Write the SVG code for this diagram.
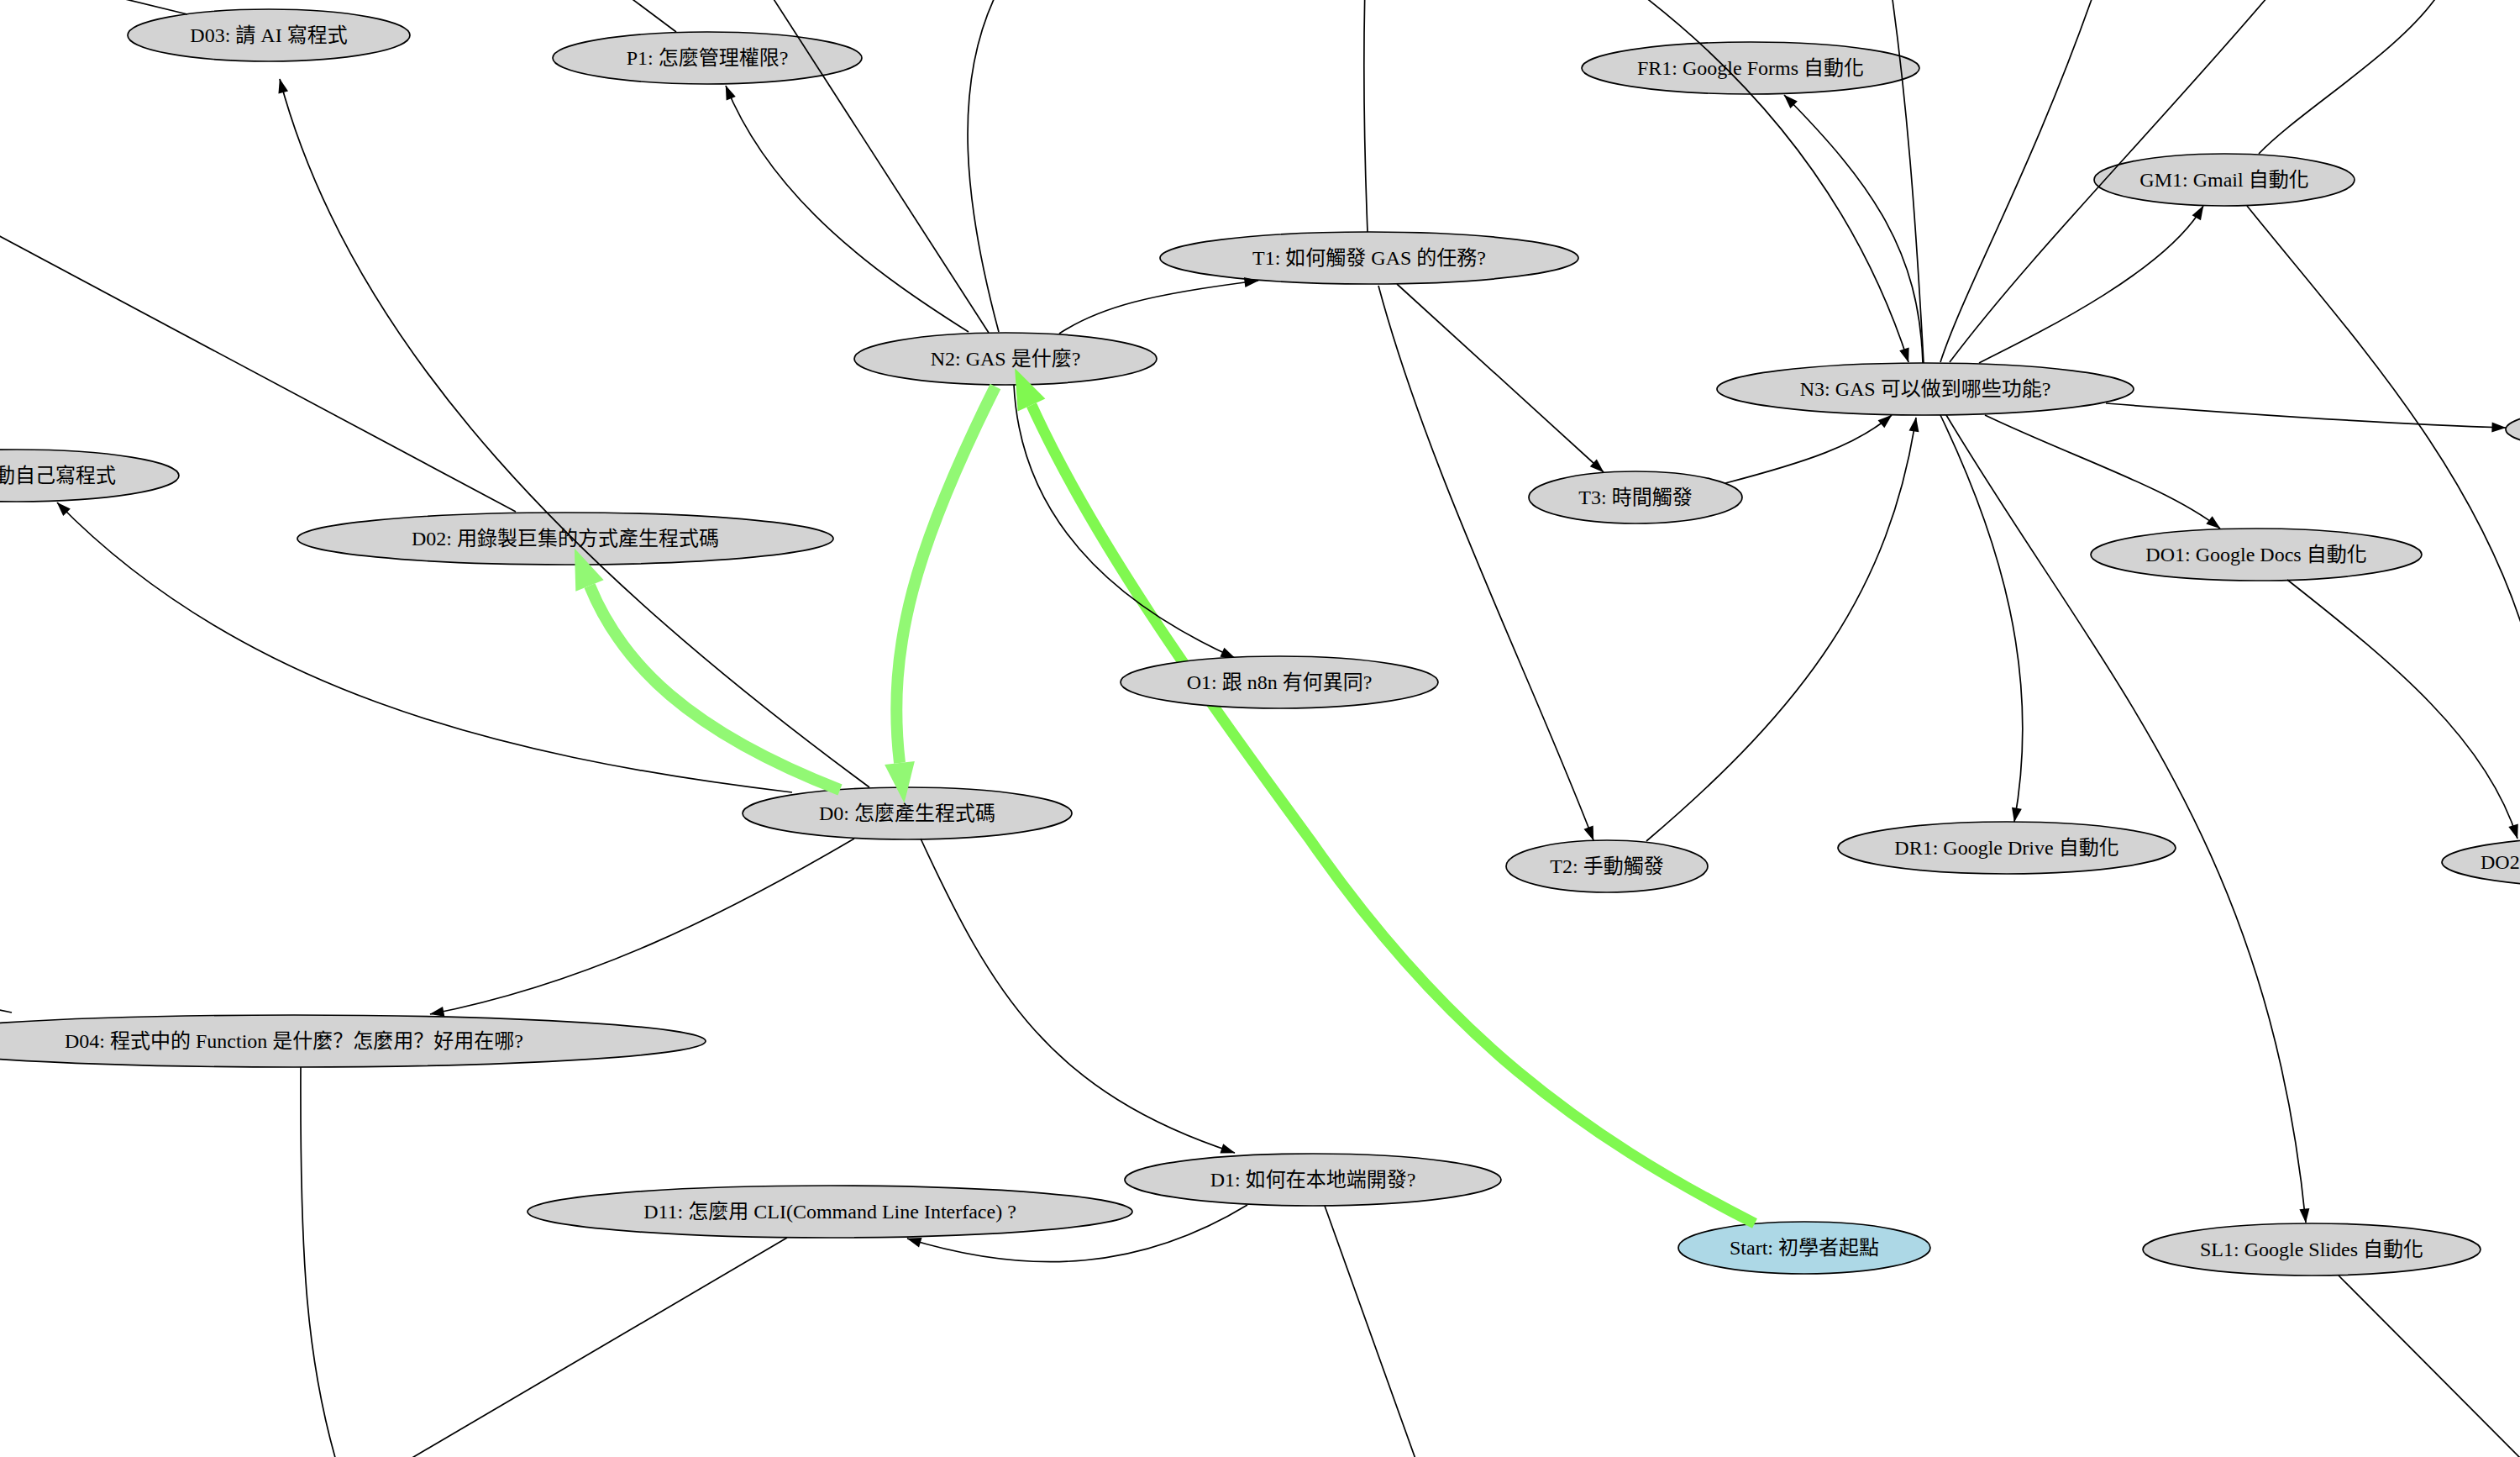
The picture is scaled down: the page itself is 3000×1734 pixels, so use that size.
<svg xmlns="http://www.w3.org/2000/svg" width="3000" height="1734" viewBox="0 0 3000 1734">
<style>
.n ellipse{fill:#d3d3d3;stroke:#000;stroke-width:1.7}
.n.start ellipse{fill:#add8e6}
.n text{font-family:"Liberation Serif","Noto Sans CJK TC",serif;font-size:24px;fill:#000;text-anchor:middle}
.n text.sc{font-family:"Liberation Serif","Noto Sans CJK SC",serif}
.e{fill:none;stroke:#000;stroke-width:1.7}
.ea{marker-end:url(#ah)}
.g1{fill:none;stroke:#80f850;stroke-width:13;marker-end:url(#ahg1)}
.g2{fill:none;stroke:#92f874;stroke-width:14;marker-end:url(#ahg2)}
</style>
<defs>
<marker id="ah" markerUnits="userSpaceOnUse" markerWidth="20" markerHeight="14" refX="16.5" refY="6" orient="auto" overflow="visible"><path d="M0,0 L17,6 L0,12 z" fill="#000"/></marker>
<marker id="ahg1" markerUnits="userSpaceOnUse" markerWidth="50" markerHeight="38" refX="0" refY="18" orient="auto" overflow="visible"><path d="M0,0 L48,18 L0,36 z" fill="#80f850"/></marker>
<marker id="ahg2" markerUnits="userSpaceOnUse" markerWidth="50" markerHeight="38" refX="0" refY="18" orient="auto" overflow="visible"><path d="M0,0 L48,18 L0,36 z" fill="#92f874"/></marker>
</defs>
<rect width="3000" height="1734" fill="#fff"/>
<g id="nodes">
<g id="D03" class="n"><ellipse cx="320" cy="42" rx="168" ry="31"/><text x="320" y="50">D03: 請 AI 寫程式</text></g>
<g id="P1" class="n"><ellipse cx="842" cy="69" rx="184" ry="31"/><text x="842" y="77">P1: 怎麼管理權限?</text></g>
<g id="FR1" class="n"><ellipse cx="2084" cy="81" rx="201" ry="31"/><text x="2084" y="89">FR1: Google Forms 自動化</text></g>
<g id="GM1" class="n"><ellipse cx="2648" cy="214" rx="155" ry="31"/><text x="2648" y="222">GM1: Gmail 自動化</text></g>
<g id="T1" class="n"><ellipse cx="1630" cy="307" rx="249" ry="31"/><text x="1630" y="315">T1: 如何觸發 GAS 的任務?</text></g>
<g id="N2" class="n"><ellipse cx="1197" cy="427" rx="180" ry="31"/><text x="1197" y="435">N2: GAS 是什麼?</text></g>
<g id="N3" class="n"><ellipse cx="2292" cy="463" rx="248" ry="31"/><text x="2292" y="471">N3: GAS 可以做到哪些功能?</text></g>
<g id="D01" class="n"><ellipse cx="20" cy="566" rx="193" ry="31"/><text x="138" y="574" style="text-anchor:end">動自己寫程式</text></g>
<g id="D02" class="n"><ellipse cx="673" cy="641" rx="319" ry="31"/><text x="673" y="649">D02: 用錄製巨集的方式產生程式碼</text></g>
<g id="T3" class="n"><ellipse cx="1947" cy="592" rx="127" ry="31"/><text x="1947" y="600">T3: 時間觸發</text></g>
<g id="DO1" class="n"><ellipse cx="2686" cy="660" rx="197" ry="31"/><text x="2686" y="668">DO1: Google Docs 自動化</text></g>
<g id="D0" class="n"><ellipse cx="1080" cy="968" rx="196" ry="31"/><text x="1080" y="976">D0: 怎麼產生程式碼</text></g>
<g id="T2" class="n"><ellipse cx="1913" cy="1031" rx="120" ry="31"/><text x="1913" y="1039">T2: 手動觸發</text></g>
<g id="DR1" class="n"><ellipse cx="2389" cy="1009" rx="201" ry="31"/><text x="2389" y="1017">DR1: Google Drive 自動化</text></g>
<g id="DO2" class="n"><ellipse cx="3120" cy="1026" rx="213" ry="31"/><text x="2953" y="1034" style="text-anchor:start">DO2</text></g>
<g id="RX" class="n"><ellipse cx="3183" cy="511" rx="200" ry="31"/></g>
<g id="D04" class="n"><ellipse cx="350" cy="1239" rx="490" ry="31"/><text class="sc" x="350" y="1247">D04: 程式中的 Function 是什麼？怎麼用？好用在哪?</text></g>
<g id="D11" class="n"><ellipse cx="988" cy="1442" rx="360" ry="31"/><text x="988" y="1450">D11: 怎麼用 CLI(Command Line Interface) ?</text></g>
<g id="D1" class="n"><ellipse cx="1563" cy="1404" rx="224" ry="31"/><text x="1563" y="1412">D1: 如何在本地端開發?</text></g>
<g id="Start" class="n start"><ellipse cx="2148" cy="1485" rx="150" ry="31"/><text x="2148" y="1493">Start: 初學者起點</text></g>
<g id="SL1" class="n"><ellipse cx="2752" cy="1487" rx="201" ry="31"/><text x="2752" y="1495">SL1: Google Slides 自動化</text></g>
</g>
<g id="connectors">
<path class="g1" d="M2089,1456 C1880,1350 1720,1230 1560,1000 C1420,810 1300,640 1228,482"/>
<path class="g2" d="M1185,460 C1090,650 1055,770 1071,908"/>
<path class="g2" d="M1000,940 C820,870 740,790 702,697"/>
<path class="e" d="M223,17 L100,-13"/>
<path class="e" d="M805,38 L730,-18"/>
<path class="e" d="M614,609 L-10,276"/>
<path class="e ea" d="M1035,937 C700,690 420,420 333,94"/>
<path class="e" d="M1177,396 L912,-15"/>
<path class="e ea" d="M1153,395 C1050,330 920,240 864,102"/>
<path class="e" d="M1189,395 C1150,250 1130,100 1190,-15"/>
<path class="e ea" d="M943,943 C580,900 280,815 68,598"/>
<path class="e ea" d="M1017,998 C860,1090 700,1170 512,1207"/>
<path class="e ea" d="M1096,998 C1180,1180 1250,1300 1470,1372"/>
<path class="e ea" d="M1485,1434 C1360,1510 1230,1520 1080,1474"/>
<path class="e" d="M1577,1435 L1690,1750"/>
<path class="e" d="M937,1473 L465,1750"/>
<path class="e" d="M358,1270 C357,1500 365,1620 402,1745"/>
<path class="e" d="M-30,1196 L14,1205"/>
<path class="e ea" d="M1207,458 C1215,620 1330,720 1470,783"/>
<path class="e ea" d="M1261,397 C1310,365 1370,350 1498,334"/>
<path class="e" d="M1628,276 C1625,200 1622,100 1625,-15"/>
<path class="e ea" d="M1663,338 L1909,562"/>
<path class="e ea" d="M1641,340 C1700,560 1820,800 1897,1000"/>
<path class="e ea" d="M1960,1001 C2150,840 2250,700 2281,497"/>
<path class="e ea" d="M2054,575 C2150,550 2210,530 2252,494"/>
<path class="e ea" d="M1950,-10 C2120,120 2220,270 2272,431"/>
<path class="e ea" d="M2289,432 C2285,300 2230,220 2124,113"/>
<path class="e" d="M2290,432 C2280,250 2270,120 2251,-15"/>
<path class="e" d="M2310,431 C2340,340 2420,200 2495,-15"/>
<path class="e" d="M2321,431 C2420,300 2560,160 2705,-10"/>
<path class="e ea" d="M2356,432 C2440,390 2580,320 2623,245"/>
<path class="e" d="M2689,183 C2740,130 2860,60 2905,-10"/>
<path class="e" d="M2675,245 C2800,400 2950,560 3010,770"/>
<path class="e ea" d="M2507,480 C2700,495 2850,505 2983,509"/>
<path class="e ea" d="M2363,494 C2470,545 2580,580 2643,629"/>
<path class="e ea" d="M2310,494 C2380,640 2430,800 2398,978"/>
<path class="e ea" d="M2317,494 C2500,800 2700,1000 2745,1455"/>
<path class="e" d="M2784,1518 L3010,1745"/>
<path class="e ea" d="M2723,690 C2850,790 2960,880 2997,998"/>
</g>
<g id="O1" class="n"><ellipse cx="1523" cy="812" rx="189" ry="31"/><text x="1523" y="820">O1: 跟 n8n 有何異同?</text></g>
</svg>
